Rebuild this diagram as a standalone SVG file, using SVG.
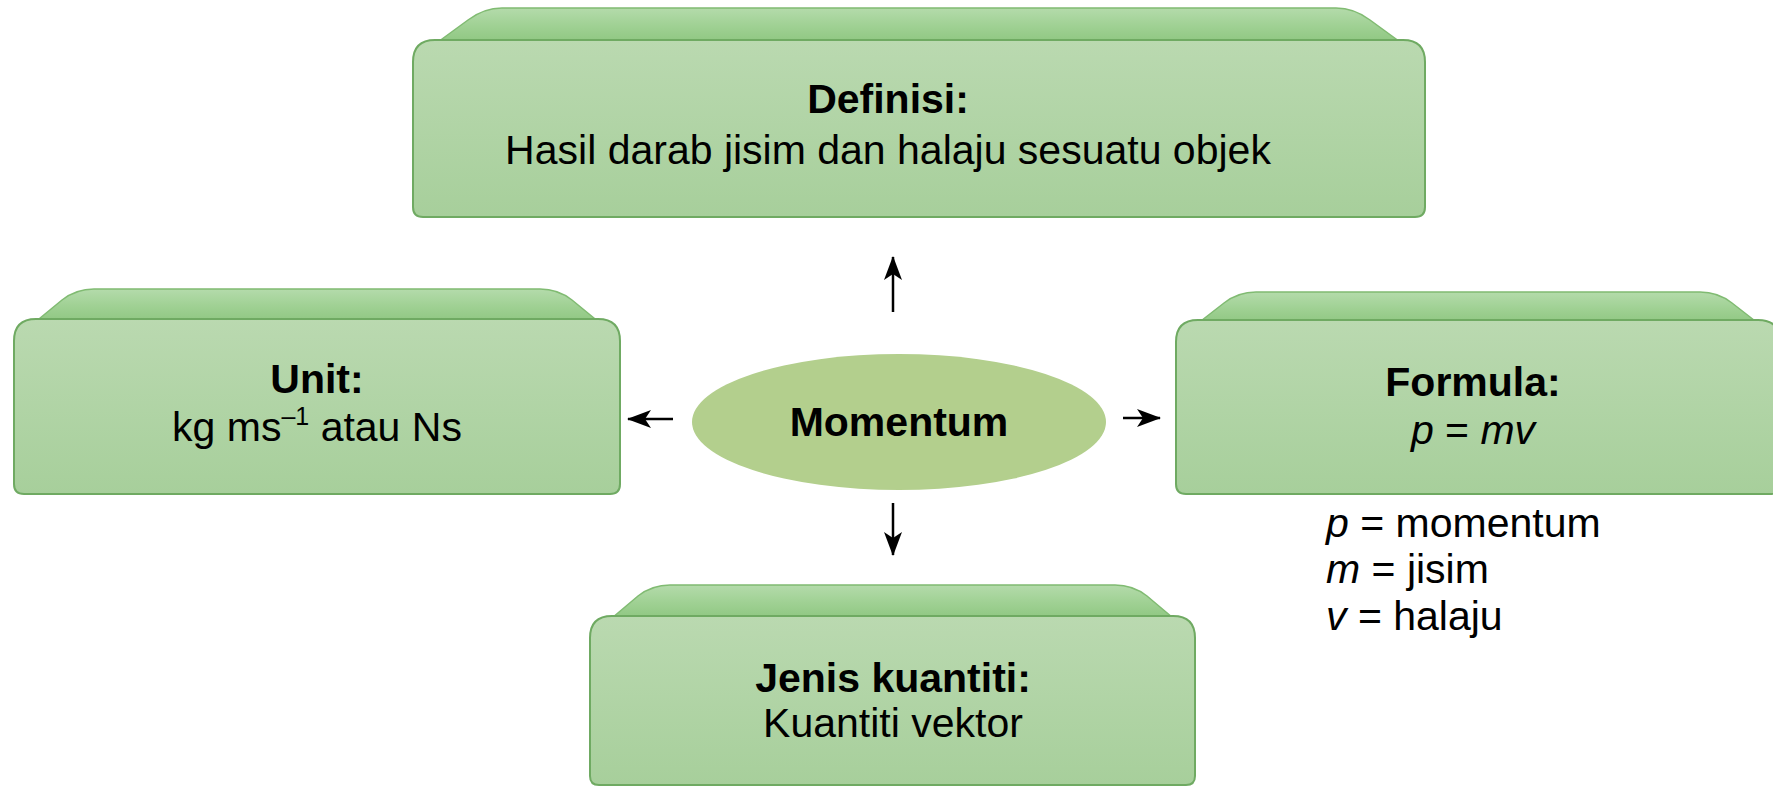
<svg xmlns="http://www.w3.org/2000/svg" width="1773" height="786" viewBox="0 0 1773 786">
<defs>
<linearGradient id="face" x1="0" y1="0" x2="0" y2="1">
<stop offset="0" stop-color="#bad9b0"/>
<stop offset="1" stop-color="#a7cf9b"/>
</linearGradient>
<linearGradient id="bevel" x1="0" y1="0" x2="0" y2="1">
<stop offset="0" stop-color="#b4dbab"/>
<stop offset="0.35" stop-color="#a0d194"/>
<stop offset="1" stop-color="#7fbd70"/>
</linearGradient>
<marker id="ah" viewBox="0 0 24 18" refX="23" refY="9" markerWidth="24" markerHeight="18" markerUnits="userSpaceOnUse" orient="auto">
<path d="M0,0 L24,9 L0,18 L6,9 Z" fill="#000"/>
</marker>
<style>
.bevel{fill:url(#bevel);stroke:#80bb72;stroke-width:1.5}
.face{fill:url(#face);stroke:#6faa62;stroke-width:2}
.t{font-family:"Liberation Sans",Arial,sans-serif;font-size:41px;fill:#000;text-anchor:middle}
.b{font-weight:bold}
.n{font-family:"Liberation Sans",Arial,sans-serif;font-size:41px;fill:#000}
.i{font-style:italic}
.conn{stroke:#000;stroke-width:2.5;fill:none;marker-end:url(#ah)}
</style>
</defs>
<rect width="1773" height="786" fill="#fff"/>
<g id="connectors">
<line class="conn" x1="893" y1="312" x2="893" y2="257"/>
<line class="conn" x1="893" y1="503" x2="893" y2="555"/>
<line class="conn" x1="673" y1="419" x2="628" y2="419"/>
<line class="conn" x1="1123" y1="418" x2="1160" y2="418"/>
</g>
<g id="definisi">
<path class="bevel" d="M416,58 L468,20 Q484,8 502,8 L1336,8 Q1354,8 1370,20 L1422,58 Z"/>
<path class="face" d="M413,62 Q413,40 435,40 L1403,40 Q1425,40 1425,62 L1425,207 Q1425,217 1415,217 L423,217 Q413,217 413,207 Z"/>
<text class="t b" x="888" y="113">Definisi:</text>
<text class="t" x="888" y="164">Hasil darab jisim dan halaju sesuatu objek</text>
</g>
<g id="unit">
<path class="bevel" d="M17,337 L62,300 Q76,289 94,289 L540,289 Q558,289 572,300 L617,337 Z"/>
<path class="face" d="M14,341 Q14,319 36,319 L598,319 Q620,319 620,341 L620,484 Q620,494 610,494 L24,494 Q14,494 14,484 Z"/>
<text class="t b" x="317" y="393">Unit:</text>
<text class="t" x="317" y="441">kg ms<tspan font-size="25" dy="-16">–1</tspan><tspan dy="16"> atau Ns</tspan></text>
</g>
<g id="momentum">
<ellipse cx="899" cy="422" rx="207" ry="68" fill="#b3cf8d"/>
<text class="t b" x="899" y="436">Momentum</text>
</g>
<g id="formula">
<path class="bevel" d="M1179,338 L1224,303 Q1238,292 1256,292 L1700,292 Q1718,292 1732,303 L1777,338 Z"/>
<path class="face" d="M1176,342 Q1176,320 1198,320 L1758,320 Q1780,320 1780,342 L1780,484 Q1780,494 1770,494 L1186,494 Q1176,494 1176,484 Z"/>
<text class="t b" x="1473" y="396">Formula:</text>
<text class="t" x="1473" y="444"><tspan class="i">p</tspan> = <tspan class="i">mv</tspan></text>
</g>
<g id="notes">
<text class="n" x="1326" y="537"><tspan class="i">p</tspan> = momentum</text>
<text class="n" x="1326" y="583"><tspan class="i">m</tspan> = jisim</text>
<text class="n" x="1326" y="630"><tspan class="i">v</tspan> = halaju</text>
</g>
<g id="jenis">
<path class="bevel" d="M593,634 L638,596 Q652,585 670,585 L1115,585 Q1133,585 1147,596 L1192,634 Z"/>
<path class="face" d="M590,638 Q590,616 612,616 L1173,616 Q1195,616 1195,638 L1195,776 Q1195,785 1186,785 L599,785 Q590,785 590,776 Z"/>
<text class="t b" x="893" y="692">Jenis kuantiti:</text>
<text class="t" x="893" y="737">Kuantiti vektor</text>
</g>
</svg>
